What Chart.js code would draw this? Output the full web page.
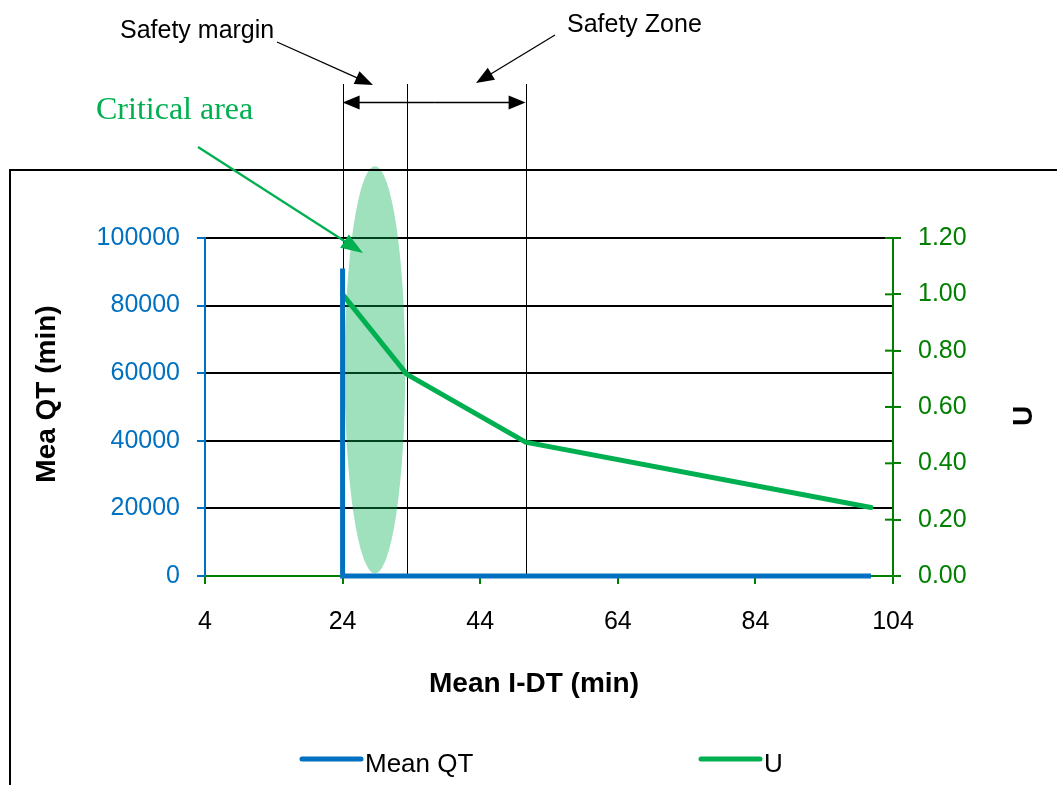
<!DOCTYPE html>
<html>
<head>
<meta charset="utf-8">
<script src="https://cdn.jsdelivr.net/npm/chart.js@4"></script>
<style>
  html, body { margin: 0; padding: 0; background: #fff; }
  canvas { display: block; }
</style>
</head>
<body>
<canvas id="chart" width="1057" height="785"></canvas>
<script>
// Mean QT (left axis) against mean I-DT
const qtTimes = [24, 24, 100.8];
const meanQT = [91000, 0, 0];
// U (right axis)
const uTimes = [24, 33.3, 50.6, 100.8];
const uValues = [1.0, 0.717, 0.475, 0.243];
// boundaries of the safety margin / safety zone
const zoneBounds = [24, 33.3, 50.6];
// critical area: centre and half extents, in axis units
const critCentre = [28.7, 61000];
const critHalf = [4.4, 60200];

const xTicks = [4, 24, 44, 64, 84, 104];
const qtTicks = [0, 20000, 40000, 60000, 80000, 100000];
const uTicks = [0, 0.2, 0.4, 0.6, 0.8, 1.0, 1.2];

const BLUE = '#0070C0';
const GREEN = '#00B050';
const AXIS_GREEN = '#008000';
const SANS = '"Liberation Sans", Arial, sans-serif';

Chart.defaults.font.family = SANS;
Chart.defaults.font.size = 25;
Chart.defaults.color = '#000';

function toPoints(xs, ys) {
  return xs.map((x, i) => ({ x: x, y: ys[i] }));
}

function setTicks(list) {
  return scale => { scale.ticks = list.map(v => ({ value: v })); };
}

function arrow(ctx, x1, y1, x2, y2, color, width, head, half) {
  const a = Math.atan2(y2 - y1, x2 - x1);
  const c = Math.cos(a), s = Math.sin(a);
  ctx.save();
  ctx.strokeStyle = color;
  ctx.fillStyle = color;
  ctx.lineWidth = width;
  ctx.beginPath();
  ctx.moveTo(x1, y1);
  ctx.lineTo(x2 - c * head * 0.8, y2 - s * head * 0.8);
  ctx.stroke();
  ctx.beginPath();
  ctx.moveTo(x2, y2);
  ctx.lineTo(x2 - c * head + s * half, y2 - s * head - c * half);
  ctx.lineTo(x2 - c * head - s * half, y2 - s * head + c * half);
  ctx.closePath();
  ctx.fill();
  ctx.restore();
}

const decorations = {
  id: 'decorations',
  beforeDatasetsDraw(chart) {
    const { ctx, chartArea } = chart;
    const xs = chart.scales.x, ys = chart.scales.y;
    ctx.save();
    // critical area
    const cx = xs.getPixelForValue(critCentre[0]);
    const cy = ys.getPixelForValue(critCentre[1]);
    const rx = Math.abs(xs.getPixelForValue(critCentre[0] + critHalf[0]) - cx);
    const ry = Math.abs(ys.getPixelForValue(critCentre[1] + critHalf[1]) - cy);
    ctx.fillStyle = 'rgba(0, 176, 80, 0.38)';
    ctx.beginPath();
    ctx.ellipse(cx, cy, rx, ry, 0, 0, Math.PI * 2);
    ctx.fill();
    // zone boundaries
    ctx.strokeStyle = '#000';
    ctx.lineWidth = 1;
    zoneBounds.forEach(v => {
      const px = Math.round(xs.getPixelForValue(v)) + 0.5;
      ctx.beginPath();
      ctx.moveTo(px, 84);
      ctx.lineTo(px, chartArea.bottom);
      ctx.stroke();
    });
    ctx.restore();
  },
  afterDraw(chart) {
    const { ctx, chartArea } = chart;
    const xs = chart.scales.x, y1 = chart.scales.y1;
    ctx.save();

    // outer frame
    ctx.strokeStyle = '#000';
    ctx.lineWidth = 2;
    ctx.beginPath();
    ctx.moveTo(10, 800);
    ctx.lineTo(10, 170);
    ctx.lineTo(1070, 170);
    ctx.stroke();

    // right axis ticks cross the axis line
    ctx.strokeStyle = AXIS_GREEN;
    ctx.lineWidth = 2;
    uTicks.forEach(v => {
      const py = y1.getPixelForValue(v);
      ctx.beginPath();
      ctx.moveTo(chartArea.right - 8, py);
      ctx.lineTo(chartArea.right, py);
      ctx.stroke();
    });

    // span arrow between the outer boundaries
    const xa = xs.getPixelForValue(zoneBounds[0]);
    const xb = xs.getPixelForValue(zoneBounds[zoneBounds.length - 1]);
    const mid = (xa + xb) / 2;
    arrow(ctx, mid, 102.5, xa, 102.5, '#000', 1.3, 17, 7);
    arrow(ctx, mid, 102.5, xb, 102.5, '#000', 1.3, 17, 7);

    // callouts
    ctx.fillStyle = '#000';
    ctx.font = '25px ' + SANS;
    ctx.textAlign = 'left';
    ctx.textBaseline = 'alphabetic';
    ctx.fillText('Safety margin', 120, 38);
    ctx.fillText('Safety Zone', 567, 32);
    arrow(ctx, 277, 42, 373, 85, '#000', 1.3, 18, 7);
    arrow(ctx, 555, 35, 476, 83, '#000', 1.3, 18, 7);

    ctx.fillStyle = GREEN;
    ctx.font = '32px "Liberation Serif", "Times New Roman", serif';
    ctx.fillText('Critical area', 96, 119);
    arrow(ctx, 198, 147, 363, 253, GREEN, 2.2, 22, 8);

    // axis titles
    ctx.fillStyle = '#000';
    ctx.font = 'bold 28px ' + SANS;
    ctx.textAlign = 'center';
    ctx.fillText('Mean I-DT (min)', 534, 692);
    ctx.save();
    ctx.translate(55, 394);
    ctx.rotate(-Math.PI / 2);
    ctx.fillText('Mea QT (min)', 0, 0);
    ctx.restore();
    ctx.save();
    ctx.translate(1032, 416);
    ctx.rotate(-Math.PI / 2);
    ctx.fillText('U', 0, 0);
    ctx.restore();

    // legend
    const slots = [302, 701];
    ctx.textAlign = 'left';
    ctx.font = '26px ' + SANS;
    ctx.lineCap = 'round';
    ctx.lineWidth = 5;
    chart.data.datasets.forEach((ds, i) => {
      const x0 = slots[i];
      ctx.strokeStyle = ds.borderColor;
      ctx.beginPath();
      ctx.moveTo(x0, 759);
      ctx.lineTo(x0 + 59, 759);
      ctx.stroke();
      ctx.fillStyle = '#000';
      ctx.fillText(ds.label, x0 + 63, 772);
    });

    ctx.restore();
  }
};

new Chart(document.getElementById('chart'), {
  type: 'line',
  data: {
    datasets: [
      {
        label: 'Mean QT',
        data: toPoints(qtTimes, meanQT),
        borderColor: BLUE,
        borderWidth: 5,
        borderJoinStyle: 'miter',
        pointRadius: 0,
        clip: false,
        yAxisID: 'y'
      },
      {
        label: 'U',
        data: toPoints(uTimes, uValues),
        borderColor: GREEN,
        borderWidth: 5,
        borderCapStyle: 'round',
        pointRadius: 0,
        clip: false,
        yAxisID: 'y1'
      }
    ]
  },
  options: {
    responsive: false,
    devicePixelRatio: 1,
    animation: false,
    events: [],
    layout: { padding: { top: 238, left: 0, right: 0, bottom: 0 } },
    plugins: {
      legend: { display: false },
      tooltip: { enabled: false }
    },
    scales: {
      x: {
        type: 'linear',
        position: 'bottom',
        min: 4,
        max: 104,
        afterBuildTicks: setTicks(xTicks),
        afterFit: s => { s.height = 209; },
        border: { color: AXIS_GREEN, width: 2 },
        grid: { drawOnChartArea: false, tickColor: AXIS_GREEN, tickLength: 8, lineWidth: 2 },
        ticks: { color: '#000', padding: 23, maxRotation: 0 }
      },
      y: {
        type: 'linear',
        position: 'left',
        min: 0,
        max: 100000,
        afterBuildTicks: setTicks(qtTicks),
        afterFit: s => { s.width = 205; },
        border: { color: BLUE, width: 2 },
        grid: { color: '#000', tickColor: BLUE, tickLength: 8, lineWidth: 2 },
        ticks: { color: BLUE, padding: 17, callback: v => String(v) }
      },
      y1: {
        type: 'linear',
        position: 'right',
        min: 0,
        max: 1.2,
        afterBuildTicks: setTicks(uTicks),
        afterFit: s => { s.width = 164; },
        border: { color: AXIS_GREEN, width: 2 },
        grid: { drawOnChartArea: false, tickColor: AXIS_GREEN, tickLength: 8, lineWidth: 2 },
        ticks: { color: AXIS_GREEN, padding: 17, callback: v => Number(v).toFixed(2) }
      }
    }
  },
  plugins: [decorations]
});
</script>
</body>
</html>
